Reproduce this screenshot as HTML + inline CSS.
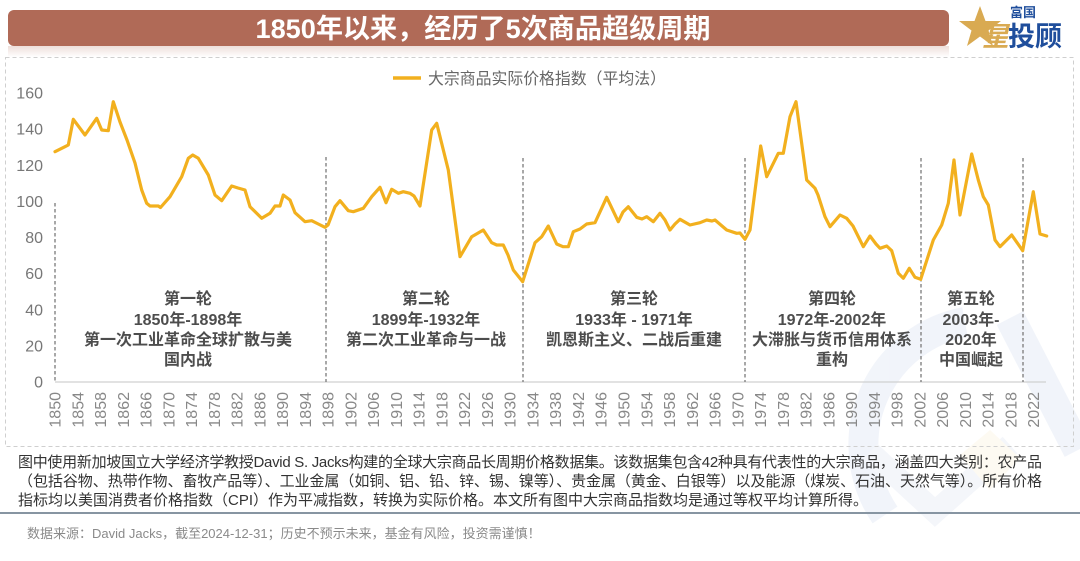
<!DOCTYPE html>
<html>
<head>
<meta charset="utf-8">
<style>
  html,body{margin:0;padding:0;background:#fff;}
  body{width:1080px;height:561px;overflow:hidden;position:relative;}
  svg{position:absolute;left:0;top:0;}
  .cjk{font-family:"Liberation Sans","Noto Sans CJK SC",sans-serif;}
</style>
</head>
<body>
<svg width="1080" height="561" viewBox="0 0 1080 561" xmlns="http://www.w3.org/2000/svg">
  <defs>
    <linearGradient id="shadow" x1="0" y1="0" x2="0" y2="1">
      <stop offset="0" stop-color="#b06a57" stop-opacity="0.22"/>
      <stop offset="1" stop-color="#b06a57" stop-opacity="0"/>
    </linearGradient>
  </defs>

  <!-- watermark -->
  <g opacity="0.3">
    <path d="M 885 515 A 125 125 0 0 1 965 322" fill="none" stroke="#d3ddef" stroke-width="30"/>
    <path d="M 1010 318 L 1078 450" fill="none" stroke="#d3ddef" stroke-width="30"/>
    <path d="M 870 452 L 935 512 L 1010 445" fill="none" stroke="#dbe3f1" stroke-width="22"/>
    <path d="M 960 455 L 990 430 L 1020 458 L 990 490 Z" fill="#fbefd6"/>
  </g>

  <!-- title bar -->
  <rect x="8" y="46" width="941" height="11" fill="url(#shadow)"/>
  <rect x="8" y="10" width="941" height="36" rx="6" ry="6" fill="#b06a57"/>
  <text x="483" y="38" text-anchor="middle" textLength="455" lengthAdjust="spacingAndGlyphs"
        class="cjk" font-size="27" font-weight="700" fill="#ffffff">1850年以来，经历了5次商品超级周期</text>

  <!-- logo -->
  <polygon points="980,6 985.5,21 1001,21 988.5,30.5 993,46 980,36.5 967,46 971.5,30.5 959,21 974.5,21" fill="#d9aa52"/>
  <text x="1010" y="17" class="cjk" font-size="13" font-weight="700" fill="#1f4e9c">富国</text>
  <text x="982" y="46" class="cjk" font-size="27" font-weight="700" font-style="italic" fill="#d9aa52">星</text>
  <text x="1008" y="46" class="cjk" font-size="27" font-weight="700" fill="#1f4e9c" textLength="54" lengthAdjust="spacingAndGlyphs">投顾</text>

  <!-- chart border -->
  <rect x="5.5" y="57.5" width="1068" height="389" fill="none" stroke="#cfcfcf" stroke-width="1" stroke-dasharray="4 3"/>

  <!-- legend -->
  <line x1="393" y1="78" x2="421" y2="78" stroke="#f2b01e" stroke-width="3.5"/>
  <text x="428" y="84" class="cjk" font-size="16" fill="#666" textLength="238" lengthAdjust="spacingAndGlyphs">大宗商品实际价格指数（平均法）</text>

  <!-- y axis labels -->
  <g font-family="Liberation Sans, sans-serif" font-size="16" fill="#777" text-anchor="end">
    <text x="43" y="387.5">0</text>
    <text x="43" y="351.4">20</text>
    <text x="43" y="315.3">40</text>
    <text x="43" y="279.1">60</text>
    <text x="43" y="243">80</text>
    <text x="43" y="206.9">100</text>
    <text x="43" y="170.8">120</text>
    <text x="43" y="134.6">140</text>
    <text x="43" y="98.5">160</text>
  </g>

  <!-- baseline -->
  <line x1="55" y1="382" x2="1046" y2="382" stroke="#d0d0d0" stroke-width="1.3"/>

  <!-- x axis labels -->
  <g font-family="Liberation Sans, sans-serif" font-size="16" fill="#888" text-anchor="end">
    <text transform="translate(60.5,392) rotate(-90)">1850</text>
    <text transform="translate(83.3,392) rotate(-90)">1854</text>
    <text transform="translate(106.0,392) rotate(-90)">1858</text>
    <text transform="translate(128.8,392) rotate(-90)">1862</text>
    <text transform="translate(151.5,392) rotate(-90)">1866</text>
    <text transform="translate(174.3,392) rotate(-90)">1870</text>
    <text transform="translate(197.1,392) rotate(-90)">1874</text>
    <text transform="translate(219.8,392) rotate(-90)">1878</text>
    <text transform="translate(242.6,392) rotate(-90)">1882</text>
    <text transform="translate(265.3,392) rotate(-90)">1886</text>
    <text transform="translate(288.1,392) rotate(-90)">1890</text>
    <text transform="translate(310.9,392) rotate(-90)">1894</text>
    <text transform="translate(333.6,392) rotate(-90)">1898</text>
    <text transform="translate(356.4,392) rotate(-90)">1902</text>
    <text transform="translate(379.1,392) rotate(-90)">1906</text>
    <text transform="translate(401.9,392) rotate(-90)">1910</text>
    <text transform="translate(424.7,392) rotate(-90)">1914</text>
    <text transform="translate(447.4,392) rotate(-90)">1918</text>
    <text transform="translate(470.2,392) rotate(-90)">1922</text>
    <text transform="translate(492.9,392) rotate(-90)">1926</text>
    <text transform="translate(515.7,392) rotate(-90)">1930</text>
    <text transform="translate(538.5,392) rotate(-90)">1934</text>
    <text transform="translate(561.2,392) rotate(-90)">1938</text>
    <text transform="translate(584.0,392) rotate(-90)">1942</text>
    <text transform="translate(606.7,392) rotate(-90)">1946</text>
    <text transform="translate(629.5,392) rotate(-90)">1950</text>
    <text transform="translate(652.3,392) rotate(-90)">1954</text>
    <text transform="translate(675.0,392) rotate(-90)">1958</text>
    <text transform="translate(697.8,392) rotate(-90)">1962</text>
    <text transform="translate(720.5,392) rotate(-90)">1966</text>
    <text transform="translate(743.3,392) rotate(-90)">1970</text>
    <text transform="translate(766.1,392) rotate(-90)">1974</text>
    <text transform="translate(788.8,392) rotate(-90)">1978</text>
    <text transform="translate(811.6,392) rotate(-90)">1982</text>
    <text transform="translate(834.3,392) rotate(-90)">1986</text>
    <text transform="translate(857.1,392) rotate(-90)">1990</text>
    <text transform="translate(879.9,392) rotate(-90)">1994</text>
    <text transform="translate(902.6,392) rotate(-90)">1998</text>
    <text transform="translate(925.4,392) rotate(-90)">2002</text>
    <text transform="translate(948.1,392) rotate(-90)">2006</text>
    <text transform="translate(970.9,392) rotate(-90)">2010</text>
    <text transform="translate(993.7,392) rotate(-90)">2014</text>
    <text transform="translate(1016.4,392) rotate(-90)">2018</text>
    <text transform="translate(1039.2,392) rotate(-90)">2022</text>
  </g>

  <!-- period dividers -->
  <g stroke="#7a7a7a" stroke-width="1.3" stroke-dasharray="3.5 2.5">
    <line x1="55" y1="203" x2="55" y2="382"/>
    <line x1="326" y1="157" x2="326" y2="382"/>
    <line x1="523" y1="158" x2="523" y2="382"/>
    <line x1="745" y1="158" x2="745" y2="382"/>
    <line x1="921" y1="158" x2="921" y2="382"/>
    <line x1="1023" y1="158" x2="1023" y2="382"/>
  </g>

  <!-- data line -->
  <polyline fill="none" stroke="#f2b01e" stroke-width="3.2" stroke-linejoin="round" stroke-linecap="round"
    points="55,151.7 65,146.7 68.3,145 73.3,119.3 85,135 96.7,118.3 101.7,130 108.3,130.7 113.3,101.7 120,122 127,140 135,163 141.7,190 146.7,203.3 150,206 158.3,206 160.5,207.5 170,196.7 181.7,176.7 188.3,158.3 192.7,155 198.3,158.3 208.3,175 215,195 221.7,200.7 231.7,186 238,188 245,190 250,206.7 261.7,218.3 270,213.3 275,206 280,206 283.3,195 290,200 295,212.7 305,221.7 311.7,220.7 318.3,224 325,227.3 328,225 335,206.7 340,200.7 348.3,210.7 353.3,211.7 363.3,208.3 371.7,196.7 380,187.3 386,202.7 391.7,189.3 398.3,193.3 403.3,191.7 410,193.3 414,196 420,206 431.7,130 436.7,123.3 448.3,170 460,256.7 471.7,236.7 483.3,230 491.7,242.7 496.7,245 503.3,245 508,255 513.3,270 522.7,281.7 535,242.7 541.7,236.7 548.3,226 556.7,244 563,246.7 568.3,246.7 573.3,231.7 580,229 586.7,224 595,222.7 606.7,197.3 618.3,221.7 623,212 628.3,206.7 636.7,217.3 642,219 646.7,216.7 653.3,221.7 660,213.3 665,220 670,230 675,224 680,219.3 690,225 700,222.7 706.7,220 712,221 715,220 726.7,230 736.7,233.3 740,233 745,239.3 750,230 760.7,146 766.7,176.7 778.3,153.3 783.3,153.3 790,116.7 796,101.7 806.7,180 815,188.3 818,195 825,216.7 830,226.7 840,215 846.7,218.3 853,226 863.3,246.7 870,236 876,244 880,248.3 886.7,246 891.7,250.7 898.3,273.3 903.3,278.3 909.3,268.3 915,277.3 920.7,279.3 933.3,240 941.7,225 948.3,203.3 954,160 960,215 971.7,154 978.3,180 983.3,196.7 988.3,205 995,240 1000,246.7 1011.7,235 1022.7,250.7 1033.3,191.7 1040,234 1046.7,236"/>

  <!-- annotations -->
  <g class="cjk" font-size="16" font-weight="700" fill="#4d4d4d" text-anchor="middle">
    <text x="188" y="304">第一轮</text>
    <text x="188" y="325">1850年-1898年</text>
    <text x="188" y="345">第一次工业革命全球扩散与美</text>
    <text x="188" y="365">国内战</text>

    <text x="426" y="304">第二轮</text>
    <text x="426" y="325">1899年-1932年</text>
    <text x="426" y="345">第二次工业革命与一战</text>

    <text x="634" y="304">第三轮</text>
    <text x="634" y="325">1933年 - 1971年</text>
    <text x="634" y="345">凯恩斯主义、二战后重建</text>

    <text x="832" y="304">第四轮</text>
    <text x="832" y="325">1972年-2002年</text>
    <text x="832" y="345">大滞胀与货币信用体系</text>
    <text x="832" y="365">重构</text>

    <text x="971" y="304">第五轮</text>
    <text x="971" y="325">2003年-</text>
    <text x="971" y="345">2020年</text>
    <text x="971" y="365">中国崛起</text>
  </g>

  <!-- footnote -->
  <g class="cjk" font-size="15" fill="#333">
    <text x="18" y="467" textLength="1024" lengthAdjust="spacing">图中使用新加坡国立大学经济学教授David S. Jacks构建的全球大宗商品长周期价格数据集。该数据集包含42种具有代表性的大宗商品，涵盖四大类别：农产品</text>
    <text x="18" y="486" textLength="1024" lengthAdjust="spacing">（包括谷物、热带作物、畜牧产品等）、工业金属（如铜、铝、铅、锌、锡、镍等）、贵金属（黄金、白银等）以及能源（煤炭、石油、天然气等）。所有价格</text>
    <text x="18" y="505">指标均以美国消费者价格指数（CPI）作为平减指数，转换为实际价格。本文所有图中大宗商品指数均是通过等权平均计算所得。</text>
  </g>
  <line x1="0" y1="513" x2="1080" y2="513" stroke="#8795a2" stroke-width="2"/>

  <!-- source -->
  <text x="27" y="538" class="cjk" font-size="13" fill="#8a8a8a">数据来源：David Jacks，截至2024-12-31；历史不预示未来，基金有风险，投资需谨慎！</text>
</svg>
</body>
</html>
